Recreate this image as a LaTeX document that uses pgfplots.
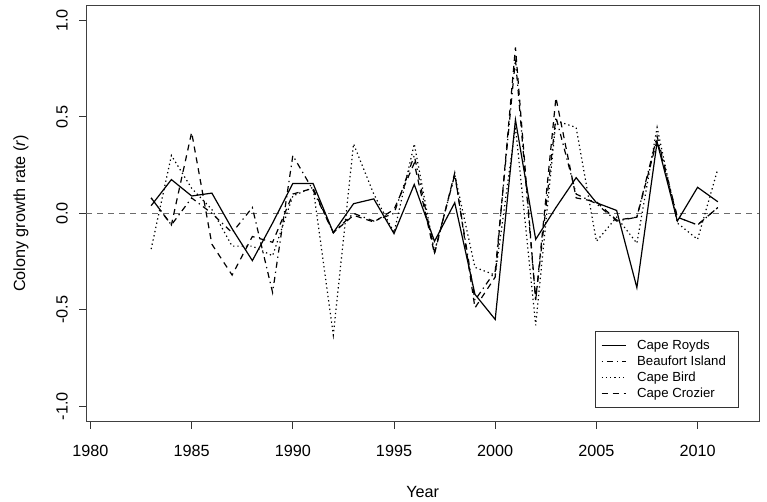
\documentclass[border=0pt]{standalone}
\usepackage{pgfplots}
\pgfplotsset{compat=1.18}
\usepackage{fontspec}
\setmainfont{Liberation Sans}

\pgfplotstableread{
year royds beaufort bird crozier
1983 0.04 0.08 -0.185 0.08
1984 0.175 -0.06 0.30 -0.06
1985 0.09 0.08 0.13 0.42
1986 0.105 0.0 0.02 -0.16
1987 -0.08 -0.10 -0.17 -0.32
1988 -0.245 0.03 -0.17 -0.12
1989 -0.05 -0.41 -0.22 -0.15
1990 0.155 0.30 0.09 0.10
1991 0.155 0.12 0.135 0.13
1992 -0.10 -0.10 -0.63 -0.10
1993 0.05 0.00 0.36 -0.01
1994 0.075 -0.04 0.10 -0.045
1995 -0.105 0.00 -0.10 0.02
1996 0.15 0.30 0.36 0.26
1997 -0.145 -0.20 -0.20 -0.21
1998 0.055 0.20 0.20 0.21
1999 -0.42 -0.45 -0.28 -0.49
2000 -0.55 -0.30 -0.32 -0.33
2001 0.485 0.80 0.45 0.86
2002 -0.135 -0.45 -0.58 -0.45
2003 0.03 0.50 0.48 0.60
2004 0.185 0.10 0.445 0.08
2005 0.055 0.05 -0.145 0.06
2006 0.015 -0.04 -0.02 -0.035
2007 -0.385 -0.02 -0.155 -0.02
2008 0.37 0.40 0.445 0.38
2009 -0.04 -0.02 -0.05 -0.02
2010 0.135 -0.06 -0.135 -0.06
2011 0.06 0.03 0.23 0.03
}\datatable

\begin{document}
\begin{tikzpicture}
\path[use as bounding box] (0bp,0bp) rectangle (767bp,502bp);
\begin{axis}[
  at={(86bp,80.3bp)}, anchor=south west,
  scale only axis, width=673.3bp, height=416.7bp,
  xmin=1979.78, xmax=2013.05, ymin=-1.08, ymax=1.08,
  axis line style={black!75, line width=0.9bp},
  xtick={1980,1985,1990,1995,2000,2005,2010},
  xticklabels={1980,1985,1990,1995,2000,2005,2010},
  ytick={-1,-0.5,0,0.5,1},
  yticklabels={-1.0,-0.5,0.0,0.5,1.0},
  xtick pos=lower, ytick pos=left,
  tick align=outside, major tick length=7bp,
  tick style={black!80, line width=0.8bp},
  xticklabel shift=16bp, yticklabel shift=11bp,
  xticklabel style={font=\fontsize{16.2bp}{19bp}\selectfont, inner sep=0pt, anchor=north},
  yticklabel style={font=\fontsize{16.2bp}{19bp}\selectfont, inner sep=0pt, rotate=90, anchor=south},
  xlabel={Year},
  xlabel style={font=\fontsize{16.2bp}{19bp}\selectfont, at={(axis description cs:0.5,-0.168)}, anchor=center},
  ylabel={Colony growth rate (\textit{r})},
  ylabel style={font=\fontsize{16.2bp}{19bp}\selectfont, at={(axis description cs:-0.0965,0.5)}, anchor=center, rotate=0},
  legend cell align=left,
  legend image code/.code={\draw[#1] (0bp,0bp) -- (24bp,0bp);},
  legend style={at={(axis description cs:0.9688,0.0322)}, anchor=south east,
    draw=black!80, line width=0.8bp, fill=white,
    font=\fontsize{13.2bp}{16bp}\selectfont,
    inner xsep=6bp, inner ysep=6bp, row sep=0bp, column sep=5bp,
    nodes={inner xsep=6bp, inner ysep=1.5bp, text height=10bp, text depth=3bp}},
]
\addplot[gray!85!black, line width=1bp, dash pattern=on 6bp off 5bp, forget plot] coordinates {(1979.78,0) (2013.05,0)};
\addplot[black, line width=1.2bp] table[x=year, y=royds] {\datatable};
\addlegendentry{Cape Royds}
\addplot[black, line width=1.2bp, dash pattern=on 1.3bp off 4bp on 6bp off 4bp] table[x=year, y=beaufort] {\datatable};
\addlegendentry{Beaufort Island}
\addplot[black, line width=1.2bp, dash pattern=on 1.3bp off 3bp] table[x=year, y=bird] {\datatable};
\addlegendentry{Cape Bird}
\addplot[black, line width=1.2bp, dash pattern=on 6bp off 5bp] table[x=year, y=crozier] {\datatable};
\addlegendentry{Cape Crozier}
\end{axis}
\end{tikzpicture}
\end{document}
